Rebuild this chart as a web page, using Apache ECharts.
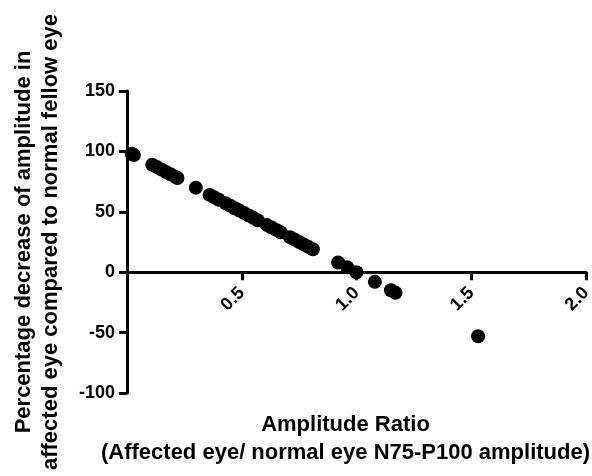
<!DOCTYPE html>
<html>
<head>
<meta charset="utf-8">
<script src="https://cdn.jsdelivr.net/npm/echarts@6/dist/echarts.min.js"></script>
<style>
  html, body { margin: 0; padding: 0; background: #fff; }
  #chart { width: 592px; height: 476px; }
</style>
</head>
<body>
<div id="chart"></div>
<script>
// Amplitude ratio (affected / normal eye)
const ampRatio = [
  0.02, 0.03,
  0.11, 0.13, 0.15, 0.17, 0.19, 0.21, 0.22,
  0.30,
  0.36, 0.38, 0.40, 0.43, 0.45, 0.47, 0.49, 0.51, 0.53, 0.55, 0.57,
  0.61, 0.63, 0.65, 0.67, 0.71, 0.73, 0.75, 0.77, 0.79, 0.81,
  0.92, 0.96, 1.00, 1.08, 1.15, 1.17,
  1.53
]
// Percentage decrease of amplitude
const pctDecrease = [
  98, 97,
  89, 87, 85, 83, 81, 79, 78,
  70,
  64, 62, 60, 57, 55, 53, 51, 49, 47, 45, 43,
  39, 37, 35, 33, 29, 27, 25, 23, 21, 19,
  8, 4, 0, -8, -15, -17,
  -53
]
const xTicks = [0, 0.5, 1.0, 1.5, 2.0]
const yTicks = [-100, -50, 0, 50, 100, 150]

const font = 'Liberation Sans, Arial, sans-serif'
const points = ampRatio.map((x, i) => [x, pctDecrease[i]])

const gridTop = 91
const gridBottom = 83
const plotH = 476 - gridTop - gridBottom
const yMin = yTicks[0]
const yMax = yTicks[yTicks.length - 1]
// lift the x axis from the grid bottom up to y = 0
const zeroOffset = -plotH * (0 - yMin) / (yMax - yMin)

const chart = echarts.init(document.getElementById('chart'))
chart.setOption({
  backgroundColor: '#fff',
  animation: false,
  grid: { left: 127, right: 6, top: gridTop, bottom: gridBottom, containLabel: false, outerBoundsMode: 'none' },
  xAxis: {
    type: 'value',
    min: xTicks[0],
    max: xTicks[xTicks.length - 1],
    interval: 0.5,
    offset: zeroOffset,
    name: 'Amplitude Ratio\n(Affected eye/ normal eye N75-P100 amplitude)',
    nameLocation: 'middle',
    nameGap: 139,
    nameTextStyle: { fontFamily: font, fontWeight: 'bold', fontSize: 22, lineHeight: 28, color: '#000', padding: [0, 22, 0, 0] },
    axisLine: { onZero: false, lineStyle: { color: '#000', width: 3 } },
    axisTick: { show: true, length: 8, lineStyle: { color: '#000', width: 3 } },
    axisLabel: {
      rotate: 45,
      margin: 18,
      fontFamily: font,
      fontWeight: 'bold',
      fontSize: 18,
      color: '#000',
      formatter: v => (v === 0 ? '' : v.toFixed(1))
    },
    splitLine: { show: false }
  },
  yAxis: {
    type: 'value',
    min: yMin,
    max: yMax,
    interval: 50,
    name: 'Percentage decrease of amplitude in\naffected eye compared to normal fellow eye',
    nameLocation: 'middle',
    nameGap: 63,
    nameTextStyle: { fontFamily: font, fontWeight: 'bold', fontSize: 22, lineHeight: 27, color: '#000' },
    axisLine: { show: true, lineStyle: { color: '#000', width: 3 } },
    axisTick: { show: true, length: 8, lineStyle: { color: '#000', width: 3 } },
    axisLabel: { margin: 12, fontFamily: font, fontWeight: 'bold', fontSize: 18, color: '#000' },
    splitLine: { show: false }
  },
  series: [{
    type: 'scatter',
    data: points,
    symbol: 'circle',
    symbolSize: 14,
    itemStyle: { color: '#000', opacity: 1 }
  }]
})
</script>
</body>
</html>
